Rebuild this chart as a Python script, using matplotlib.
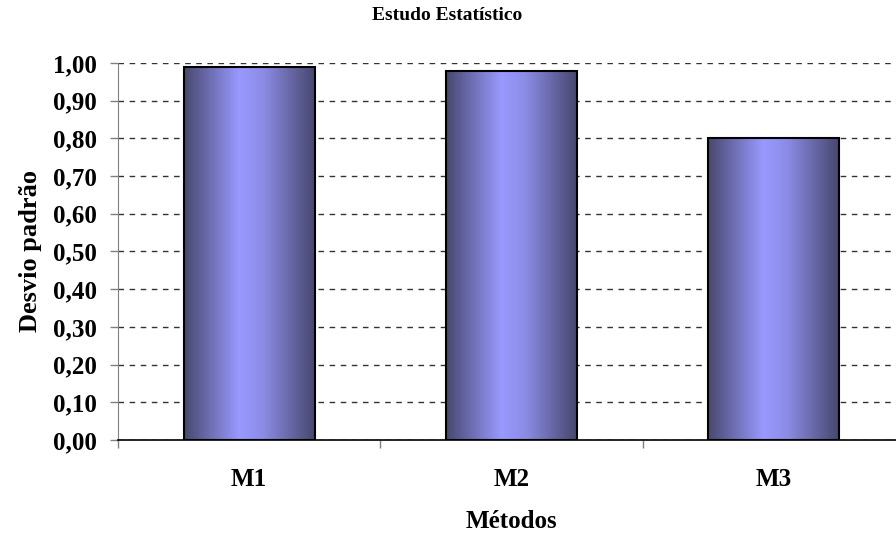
import numpy as np
import matplotlib.pyplot as plt
from matplotlib.colors import LinearSegmentedColormap
from matplotlib.ticker import MultipleLocator, FuncFormatter

metodos = ['M1', 'M2', 'M3']
desvio = [0.99, 0.98, 0.80]

plt.rcParams['font.family'] = ['Liberation Serif', 'DejaVu Serif']
plt.rcParams['font.weight'] = 'bold'

fig = plt.figure(figsize=(8.96, 5.35), dpi=100)
ax = fig.add_axes([118 / 896, 1 - 440 / 535, (905 - 118) / 896, (440 - 63) / 535])

# horizontal shading: dark edges, light band a bit left of centre
cmap = LinearSegmentedColormap.from_list(
    'barra', [(0.0, '#48486f'), (0.42, '#9999ff'), (0.6, '#8c8ce6'), (1.0, '#46466c')])
grad = np.linspace(0, 1, 256).reshape(1, -1)

x = np.arange(len(metodos))
bars = ax.bar(x, desvio, width=0.5, facecolor='none', edgecolor='black',
              linewidth=1.5, zorder=3)
for b in bars:
    x0, y0 = b.get_x(), b.get_y()
    im = ax.imshow(grad, cmap=cmap, aspect='auto', zorder=2,
                   extent=[x0, x0 + b.get_width(), y0, y0 + b.get_height()])
    im.set_clip_path(b)

ax.set_xlim(-0.5, 2.5)
ax.set_ylim(0, 1.0)
ax.yaxis.set_major_locator(MultipleLocator(0.1))
ax.yaxis.set_major_formatter(FuncFormatter(lambda v, p: f'{v:.2f}'.replace('.', ',')))
ax.yaxis.grid(True, linestyle=(0, (4, 4)), color='#333333', linewidth=1, zorder=0)

ax.set_xticks(x)
ax.set_xticklabels(metodos)
ax.set_xticks([-0.5, 0.5, 1.5], minor=True)
ax.tick_params(axis='x', which='major', length=0, pad=20, labelsize=18)
ax.tick_params(axis='x', which='minor', length=6, width=1, color='#808080')
ax.tick_params(axis='y', length=6, width=1, color='#808080', labelsize=18, pad=9)

for s in ['top', 'right']:
    ax.spines[s].set_visible(False)
ax.spines['left'].set_color('#808080')
ax.spines['bottom'].set_color('black')
ax.spines['bottom'].set_linewidth(1.2)

ax.set_ylabel('Desvio padrão', fontsize=19, fontweight='bold', labelpad=8)
ax.set_xlabel('Métodos', fontsize=18, fontweight='bold', labelpad=14)
fig.text(447 / 896, 1 - 16 / 535, 'Estudo Estatístico', ha='center', va='center',
         fontsize=14, fontweight='bold')

fig.savefig('out.png', dpi=100)
